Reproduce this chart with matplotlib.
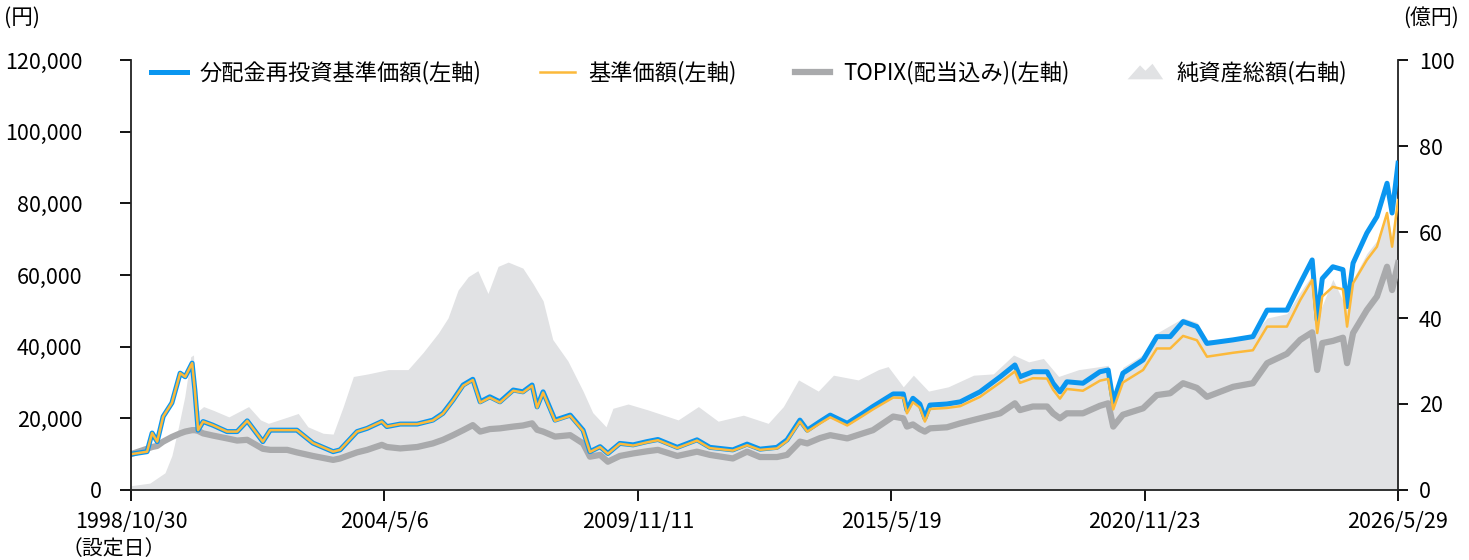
import matplotlib
matplotlib.use("Agg")
import matplotlib.pyplot as plt
import matplotlib.transforms as mtransforms
from matplotlib.patches import Polygon
from matplotlib.legend_handler import HandlerPatch
import pandas as pd

plt.rcParams['font.family'] = ['Noto Sans CJK JP', 'DejaVu Sans']

# dates as decimal years
nav_years = [
    1998.83, 1999.18, 1999.29, 1999.40, 1999.53, 1999.72, 1999.90, 2000.01, 2000.16, 2000.22,
    2000.29, 2000.40, 2000.61, 2000.92, 2001.14, 2001.36, 2001.70, 2001.86, 2002.23, 2002.44,
    2002.79, 2003.23, 2003.38, 2003.75, 2003.97, 2004.29, 2004.40, 2004.69, 2005.06, 2005.40,
    2005.62, 2005.84, 2006.06, 2006.27, 2006.43, 2006.64, 2006.86, 2007.15, 2007.36, 2007.56,
    2007.67, 2007.80, 2008.06, 2008.39, 2008.67, 2008.82, 2009.04, 2009.21, 2009.47, 2009.76,
    2010.06, 2010.30, 2010.72, 2011.15, 2011.43, 2011.93, 2012.24, 2012.52, 2012.89, 2013.11,
    2013.39, 2013.55, 2013.83, 2014.05, 2014.42, 2014.76, 2014.98, 2015.42, 2015.64, 2015.72,
    2015.85, 2016.00, 2016.11, 2016.22, 2016.59, 2016.88, 2017.31, 2017.75, 2018.07, 2018.18,
    2018.46, 2018.77, 2018.90, 2019.05, 2019.20, 2019.55, 2019.92, 2020.10, 2020.21, 2020.42,
    2020.86, 2021.16, 2021.45, 2021.73, 2022.03, 2022.25, 2022.82, 2023.25, 2023.56, 2023.99,
    2024.28, 2024.54, 2024.65, 2024.76, 2024.99, 2025.21, 2025.30, 2025.43, 2025.73, 2025.95,
    2026.17, 2026.28, 2026.41,
]

# 分配金再投資基準価額 (円)
nav_reinvest = [
    10000, 10700, 15900, 13500, 20500, 24300, 32600, 31600, 35400, 27900,
    16700, 19100, 18100, 16300, 16300, 19300, 13500, 16700, 16700, 16700,
    13100, 10700, 11200, 16300, 17200, 19100, 17700, 18400, 18400, 19500,
    21400, 25100, 29300, 30900, 24600, 26000, 24600, 27900, 27400, 29300,
    23200, 27400, 19500, 20900, 16700, 10700, 12100, 10200, 13000, 12600,
    13500, 14100, 11900, 14000, 11900, 11200, 12800, 11400, 11900, 14000,
    19500, 16700, 19100, 20900, 18600, 21400, 23300, 26800, 26800, 22300,
    25600, 24000, 20000, 23700, 24000, 24600, 27400, 31600, 34900, 31600,
    33000, 33000, 29800, 27400, 30200, 29800, 33000, 33500, 24500, 32600,
    36300, 42800, 42800, 47000, 45600, 40900, 41900, 42800, 50200, 50200,
    57700, 64200, 47400, 59000, 62300, 61500, 51200, 63300, 71700, 76300,
    85600, 77300, 91200,
]

# 基準価額 (円)
nav = [
    10000, 10700, 15900, 13500, 20500, 24300, 32600, 31600, 35400, 27900,
    16700, 19100, 18100, 16300, 16300, 19300, 13500, 16700, 16700, 16700,
    13100, 10700, 11200, 16300, 17200, 19100, 17700, 18400, 18400, 19400,
    21300, 25000, 29100, 30700, 24400, 25800, 24400, 27700, 27200, 29100,
    23000, 27200, 19300, 20700, 16500, 10600, 12000, 10100, 12900, 12400,
    13300, 13900, 11700, 13800, 11700, 11000, 12500, 11200, 11600, 13700,
    19100, 16300, 18600, 20300, 18000, 20700, 22500, 25800, 25700, 21400,
    24500, 23000, 19100, 22600, 22900, 23400, 26000, 30000, 33100, 29900,
    31200, 31100, 28000, 25500, 28200, 27700, 30500, 31000, 22500, 30000,
    33500, 39500, 39500, 43000, 41800, 37200, 38300, 39000, 45600, 45600,
    53000, 58600, 43800, 54000, 56700, 56000, 45600, 57700, 64200, 67900,
    77300, 67900, 80900,
]

# TOPIX(配当込み) (円換算)
topix = [
    10000, 11500, 12000, 12300, 13500, 14800, 15800, 16300, 16700, 16700,
    16500, 15800, 15200, 14400, 13800, 14000, 11500, 11200, 11200, 10500,
    9500, 8400, 8800, 10500, 11200, 12600, 12000, 11600, 12000, 13000,
    14000, 15300, 16700, 18100, 16300, 17000, 17200, 17700, 18000, 18600,
    16800, 16300, 14900, 15300, 13000, 9300, 9800, 7900, 9500, 10200,
    10800, 11200, 9500, 10700, 9800, 8800, 10700, 9200, 9200, 9800,
    13500, 13000, 14500, 15300, 14400, 15800, 16700, 20500, 20000, 17700,
    18300, 17000, 16300, 17200, 17500, 18600, 20000, 21400, 24200, 22300,
    23300, 23300, 21400, 20000, 21400, 21400, 23500, 24200, 17700, 21000,
    22800, 26500, 27000, 29800, 28500, 26000, 28800, 29800, 35400, 38000,
    41900, 44000, 33500, 41000, 41600, 42500, 35400, 43800, 50200, 54000,
    62300, 55800, 63300,
]

aum_years = [
    1998.83, 1999.24, 1999.57, 1999.72, 1999.85, 2000.00, 2000.13, 2000.19, 2000.25, 2000.41,
    2000.63, 2000.96, 2001.39, 2001.65, 2001.82, 2002.25, 2002.47, 2002.68, 2003.01, 2003.23,
    2003.45, 2003.67, 2003.99, 2004.43, 2004.86, 2005.19, 2005.52, 2005.73, 2005.95, 2006.17,
    2006.38, 2006.60, 2006.82, 2007.04, 2007.36, 2007.58, 2007.80, 2008.01, 2008.34, 2008.67,
    2008.88, 2009.17, 2009.32, 2009.65, 2010.09, 2010.74, 2011.18, 2011.61, 2012.16, 2012.70,
    2013.03, 2013.36, 2013.79, 2014.12, 2014.66, 2015.10, 2015.31, 2015.64, 2015.86, 2016.19,
    2016.62, 2017.17, 2017.60, 2018.04, 2018.37, 2018.69, 2019.02, 2019.46, 2019.92, 2020.10,
    2020.21, 2020.42, 2020.86, 2021.16, 2021.73, 2022.03, 2022.25, 2022.82, 2023.25, 2023.56,
    2023.99, 2024.28, 2024.54, 2024.65, 2024.99, 2025.30, 2025.43, 2025.73, 2025.95, 2026.17,
    2026.28, 2026.41,
]

# 純資産総額 (億円)
aum = [
    1.0, 1.6, 4.0, 8.0, 14.0, 21.7, 31.0, 31.4, 18.0, 19.4,
    18.5, 17.0, 19.4, 16.3, 15.5, 17.0, 17.8, 14.7, 13.2, 13.0,
    19.4, 26.4, 27.0, 28.0, 28.0, 32.0, 36.5, 40.0, 46.5, 49.6,
    51.0, 45.7, 52.0, 53.0, 51.6, 48.0, 44.0, 35.0, 30.0, 23.0,
    18.0, 14.7, 19.0, 20.0, 18.6, 16.3, 19.4, 16.0, 17.4, 15.5,
    19.4, 25.6, 23.0, 26.7, 25.6, 28.0, 28.7, 24.0, 26.7, 23.0,
    24.0, 26.7, 27.0, 31.4, 29.8, 30.6, 26.4, 28.0, 28.7, 29.0,
    22.0, 28.5, 31.5, 36.5, 40.0, 39.0, 35.0, 35.0, 36.0, 40.0,
    41.0, 46.0, 50.0, 40.0, 49.0, 42.0, 49.0, 55.0, 58.0, 65.0,
    58.0, 65.0,
]

tick_dates = ['1998-10-30', '2004-05-06', '2009-11-11', '2015-05-19', '2020-11-23', '2026-05-29']
tick_labels = ['1998/10/30', '2004/5/6', '2009/11/11', '2015/5/19', '2020/11/23', '2026/5/29']
y_left_ticks = [0, 20000, 40000, 60000, 80000, 100000, 120000]
y_right_ticks = [0, 20, 40, 60, 80, 100]
legend_labels = ['分配金再投資基準価額(左軸)', '基準価額(左軸)', 'TOPIX(配当込み)(左軸)', '純資産総額(右軸)']


def to_dates(years):
    start = pd.Timestamp('1998-10-30')
    return [start + pd.Timedelta(days=(y - 1998.83) * 365.25) for y in years]


nav_dates = to_dates(nav_years)
aum_dates = to_dates(aum_years)

BLUE = '#0a96f0'
ORANGE = '#fcb93a'
GRAY = '#a9aaac'
FILL = '#e1e2e4'

fig = plt.figure(figsize=(14.69, 5.60), dpi=100)
ax = fig.add_axes([131 / 1469, 1 - 490 / 560, (1398 - 131) / 1469, 430 / 560])
ax2 = ax.twinx()
ax.set_zorder(ax2.get_zorder() + 1)
ax.patch.set_visible(False)

ax2.fill_between(aum_dates, aum, 0, color=FILL, lw=0)
ax.plot(nav_dates, topix, color=GRAY, lw=4.5, solid_joinstyle='round')
ax.plot(nav_dates, nav_reinvest, color=BLUE, lw=3.6, solid_joinstyle='round')
ax.plot(nav_dates, nav, color=ORANGE, lw=1.8, solid_joinstyle='round')

ax.set_xlim(pd.Timestamp(tick_dates[0]), pd.Timestamp(tick_dates[-1]))
ax.set_ylim(0, 120000)
ax2.set_ylim(0, 100)

ax.set_xticks([pd.Timestamp(d) for d in tick_dates])
ax.set_xticklabels(tick_labels)
ax.set_yticks(y_left_ticks)
ax.set_yticklabels([f'{v:,}' for v in y_left_ticks])
ax2.set_yticks(y_right_ticks)

for s in ['top', 'right']:
    ax.spines[s].set_visible(False)
for s in ['top', 'left', 'bottom']:
    ax2.spines[s].set_visible(False)
for a in (ax, ax2):
    for s in a.spines.values():
        s.set_linewidth(1.3)
        s.set_color('#222222')

ax.tick_params(axis='y', direction='out', length=8, width=1.3, pad=27, labelsize=15.5)
ax.tick_params(axis='x', direction='out', length=8, width=1.3, pad=7, labelsize=15.5)
ax2.tick_params(axis='y', direction='out', length=7, width=1.3, pad=8, labelsize=15.5)

# "0" on the left axis sits closer to the spine
lbl0 = ax.get_yticklabels()[0]
lbl0.set_transform(lbl0.get_transform() + mtransforms.ScaledTranslation(0.19, 0, fig.dpi_scale_trans))

fig.text(62 / 1469, 1 - 549 / 560, '（設定日）', fontsize=15, ha='left', va='center')
fig.text(4 / 1469, 1 - 18 / 560, '(円)', fontsize=15.5, ha='left', va='center')
fig.text(1403 / 1469, 1 - 18 / 560, '(億円)', fontsize=15, ha='left', va='center')


class MountainHandler(HandlerPatch):
    def create_artists(self, legend, orig_handle, xdescent, ydescent, width, height, fontsize, trans):
        pts = [[0, 0], [width * 0.35, height * 0.9], [width * 0.5, height * 0.55],
               [width * 0.7, height * 1.0], [width, 0]]
        p = Polygon(pts, closed=True, facecolor=FILL, edgecolor='none', transform=trans)
        return [p]


h1, = ax.plot([], [], color=BLUE, lw=3.6)
h2, = ax.plot([], [], color=ORANGE, lw=1.8)
h3, = ax.plot([], [], color=GRAY, lw=4.5)
h4 = Polygon([[0, 0]], facecolor=FILL)
ax.legend([h1, h2, h3, h4], legend_labels,
          ncol=4, loc='upper left', bbox_to_anchor=(0.0, 1.045), frameon=False,
          fontsize=16, handlelength=1.6, handletextpad=0.6, columnspacing=2.6,
          handler_map={Polygon: MountainHandler()})

fig.savefig('out.png', dpi=100)
